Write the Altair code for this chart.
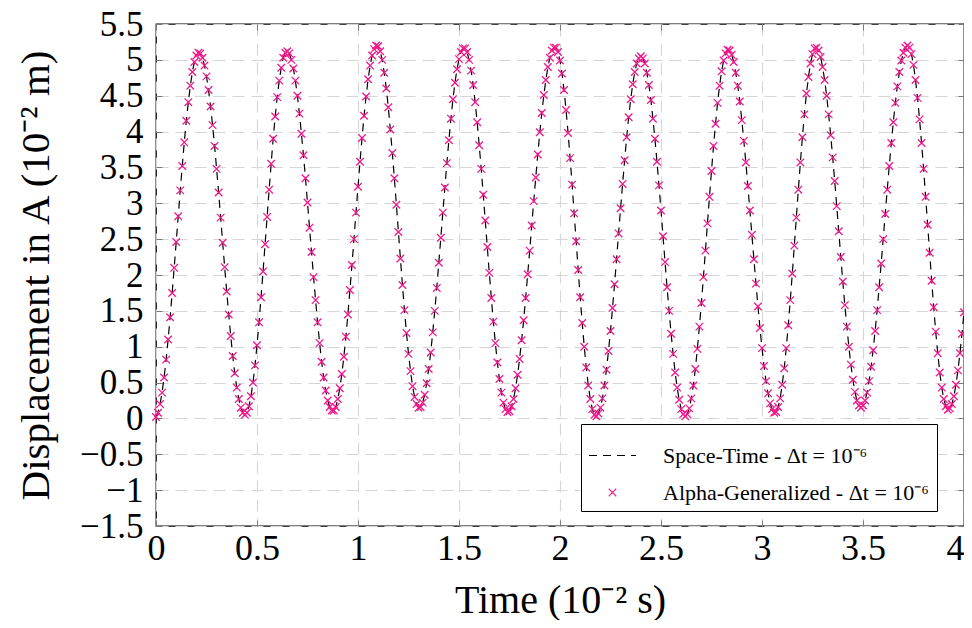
import altair as alt
import pandas as pd

# ---------------- data ----------------
T_STEP = 0.01
BLOCK_LEN = 0.5  # each block below covers 0.5 (10^-2 s), 50 samples

block_0 = [0.02, 0.08, 0.20, 0.36, 0.57, 0.82, 1.10, 1.41, 1.75, 2.10,
           2.46, 2.82, 3.18, 3.52, 3.85, 4.15, 4.41, 4.64, 4.83, 4.97,
           5.06, 5.10, 5.09, 5.03, 4.92, 4.77, 4.58, 4.35, 4.09, 3.80,
           3.48, 3.15, 2.80, 2.45, 2.11, 1.77, 1.45, 1.15, 0.87, 0.63,
           0.43, 0.27, 0.15, 0.08, 0.05, 0.08, 0.17, 0.31, 0.50, 0.74]
block_1 = [1.02, 1.34, 1.69, 2.05, 2.43, 2.81, 3.19, 3.55, 3.90, 4.21,
           4.48, 4.71, 4.89, 5.03, 5.10, 5.12, 5.09, 5.00, 4.88, 4.71,
           4.50, 4.25, 3.97, 3.67, 3.35, 3.01, 2.66, 2.32, 1.97, 1.65,
           1.34, 1.05, 0.79, 0.57, 0.39, 0.25, 0.16, 0.11, 0.11, 0.16,
           0.27, 0.42, 0.62, 0.86, 1.14, 1.45, 1.79, 2.14, 2.50, 2.87]
block_2 = [3.23, 3.58, 3.91, 4.22, 4.49, 4.73, 4.92, 5.06, 5.15, 5.20,
           5.19, 5.12, 5.00, 4.82, 4.60, 4.34, 4.03, 3.70, 3.35, 2.98,
           2.60, 2.23, 1.86, 1.51, 1.19, 0.90, 0.66, 0.45, 0.30, 0.20,
           0.15, 0.16, 0.22, 0.33, 0.49, 0.69, 0.92, 1.20, 1.50, 1.82,
           2.17, 2.52, 2.87, 3.22, 3.56, 3.88, 4.18, 4.45, 4.68, 4.87]
block_3 = [5.01, 5.11, 5.16, 5.16, 5.11, 5.00, 4.85, 4.65, 4.41, 4.13,
           3.81, 3.48, 3.12, 2.76, 2.39, 2.03, 1.68, 1.35, 1.05, 0.78,
           0.55, 0.36, 0.22, 0.13, 0.09, 0.10, 0.17, 0.27, 0.42, 0.61,
           0.83, 1.09, 1.37, 1.68, 2.01, 2.34, 2.69, 3.03, 3.36, 3.68,
           3.99, 4.26, 4.51, 4.72, 4.90, 5.03, 5.13, 5.17, 5.17, 5.11]
block_4 = [4.99, 4.81, 4.58, 4.30, 3.98, 3.63, 3.26, 2.86, 2.47, 2.07,
           1.69, 1.33, 1.00, 0.71, 0.46, 0.27, 0.13, 0.05, 0.03, 0.07,
           0.15, 0.28, 0.46, 0.68, 0.94, 1.22, 1.54, 1.87, 2.22, 2.58,
           2.93, 3.27, 3.60, 3.92, 4.20, 4.45, 4.66, 4.83, 4.95, 5.02,
           5.05, 5.02, 4.95, 4.82, 4.65, 4.44, 4.18, 3.90, 3.58, 3.25]
block_5 = [2.90, 2.54, 2.18, 1.83, 1.50, 1.18, 0.90, 0.64, 0.43, 0.26,
           0.13, 0.06, 0.03, 0.06, 0.14, 0.28, 0.46, 0.69, 0.97, 1.28,
           1.61, 1.97, 2.34, 2.72, 3.09, 3.45, 3.80, 4.11, 4.40, 4.64,
           4.84, 4.99, 5.09, 5.14, 5.13, 5.07, 4.97, 4.82, 4.64, 4.42,
           4.16, 3.87, 3.57, 3.24, 2.90, 2.56, 2.22, 1.88, 1.56, 1.26]
block_6 = [0.98, 0.73, 0.52, 0.35, 0.21, 0.13, 0.08, 0.09, 0.16, 0.28,
           0.47, 0.70, 0.98, 1.30, 1.65, 2.02, 2.41, 2.80, 3.19, 3.57,
           3.92, 4.24, 4.53, 4.76, 4.95, 5.08, 5.16, 5.17, 5.13, 5.04,
           4.90, 4.72, 4.50, 4.24, 3.95, 3.64, 3.31, 2.96, 2.61, 2.25,
           1.91, 1.58, 1.28, 1.00, 0.75, 0.54, 0.37, 0.25, 0.18, 0.15]
block_7 = [0.18, 0.25, 0.36, 0.52, 0.72, 0.95, 1.22, 1.51, 1.83, 2.16,
           2.50, 2.85, 3.19, 3.52, 3.84, 4.13, 4.40, 4.63, 4.83, 4.99,
           5.10, 5.17, 5.20, 5.17, 5.08, 4.93, 4.72, 4.47, 4.17, 3.84,
           3.48, 3.09, 2.70, 2.31, 1.92, 1.55, 1.21, 0.91, 0.64, 0.43,
           0.27, 0.17, 0.12, 0.14, 0.20, 0.31, 0.47, 0.67, 0.91, 1.18]
y_end = 1.48  # value at t = 4

x_ticks = [0, 0.5, 1, 1.5, 2, 2.5, 3, 3.5, 4]
y_ticks = [-1.5, -1, -0.5, 0, 0.5, 1, 1.5, 2, 2.5, 3, 3.5, 4, 4.5, 5, 5.5]

SER_LINE = "Space-Time - Δt = 10⁻⁶"
SER_MARK = "Alpha-Generalized - Δt = 10⁻⁶"
series_domain = [SER_LINE, SER_MARK]

# ---------------- build table ----------------
rows = []
for b, vals in enumerate([block_0, block_1, block_2, block_3,
                          block_4, block_5, block_6, block_7]):
    for i, v in enumerate(vals):
        rows.append({"t": round(b * BLOCK_LEN + i * T_STEP, 2), "y": v})
rows.append({"t": 4.0, "y": y_end})

df_line = pd.DataFrame(rows).assign(series=SER_LINE)
df_mark = pd.DataFrame(rows).assign(series=SER_MARK)

FONT = "Liberation Serif"
SYM = 2209  # sqrt = 47 px legend stroke sample
X_PATH = "M-0.16,-0.16L0.16,0.16M0.16,-0.16L-0.16,0.16"

x_scale = alt.Scale(domain=[0, 4], nice=False, zero=False)
y_scale = alt.Scale(domain=[-1.5, 5.5], nice=False, zero=False)
color_scale = alt.Scale(domain=series_domain, range=["#000000", "#f0198c"])
dash_scale = alt.Scale(domain=series_domain, range=[[8, 6], [1, 0]])
shape_scale = alt.Scale(domain=series_domain, range=["stroke", X_PATH])

legend = alt.Legend(
    title=None, orient="none", legendX=425, legendY=400,
    strokeColor="black", fillColor="white", padding=7, cornerRadius=0,
    symbolSize=SYM, symbolStrokeWidth=1.2, labelFont=FONT,
    labelFontSize=22, labelColor="black", labelOffset=26, rowPadding=1,
    labelLimit=0,
)

tick_common = dict(values=x_ticks, offset=-6, tickSize=6, tickColor="#7a7a7a",
                   tickWidth=1, domain=False)

axis_bottom = alt.Axis(
    orient="bottom", format="~g", grid=True, gridColor="#d6d6d6",
    gridDash=[12, 7], gridWidth=1.1, labelFont=FONT, labelFontSize=36,
    labelColor="black", labelPadding=5, labelOverlap=False, labelFlush=False,
    labelAlign={"condition": {"test": "datum.value == 4", "value": "right"},
                "value": "center"},
    title="Time (10⁻² s)", titleFont=FONT, titleFontSize=40,
    titleFontWeight="normal", titleColor="black", titlePadding=14,
    **tick_common,
)
axis_top = alt.Axis(orient="top", labels=False, grid=False, title=None,
                    **tick_common)

ytick_common = dict(values=y_ticks, offset=-6, tickSize=6, tickColor="#7a7a7a",
                    tickWidth=1, domain=False)
axis_left = alt.Axis(
    orient="left", format="~g", grid=True, gridColor="#d6d6d6",
    gridDash=[12, 7], gridWidth=1.1, labelFont=FONT, labelFontSize=35,
    labelColor="black", labelPadding=13, labelOverlap=False, labelFlush=False,
    title="Displacement in A (10⁻² m)", titleFont=FONT, titleFontSize=41,
    titleFontWeight="normal", titleColor="black", titlePadding=22,
    **ytick_common,
)
axis_right = alt.Axis(orient="right", labels=False, grid=False, title=None,
                      **ytick_common)

line = alt.Chart(df_line).mark_line(strokeWidth=1.2).encode(
    x=alt.X("t:Q", scale=x_scale, axis=axis_bottom),
    y=alt.Y("y:Q", scale=y_scale, axis=axis_left),
    color=alt.Color("series:N", scale=color_scale, legend=legend),
    strokeDash=alt.StrokeDash("series:N", scale=dash_scale, legend=legend),
)

points = alt.Chart(df_mark).mark_point(
    filled=False, strokeWidth=1.3, size=SYM, opacity=1
).encode(
    x=alt.X("t:Q", scale=x_scale, axis=axis_top),
    y=alt.Y("y:Q", scale=y_scale, axis=axis_right),
    color=alt.Color("series:N", scale=color_scale, legend=legend),
    shape=alt.Shape("series:N", scale=shape_scale, legend=legend),
)

chart = (
    alt.layer(line, points)
    .resolve_axis(x="independent", y="independent")
    .properties(
        width=808, height=502,
        autosize=alt.AutoSizeParams(type="none"),
        padding={"left": 148, "top": 16, "right": 0, "bottom": 94},
        background="white",
    )
    .configure_view(stroke="black", strokeWidth=1.3)
)

chart.save("out.html", embed_options={"renderer": "svg", "actions": False})
